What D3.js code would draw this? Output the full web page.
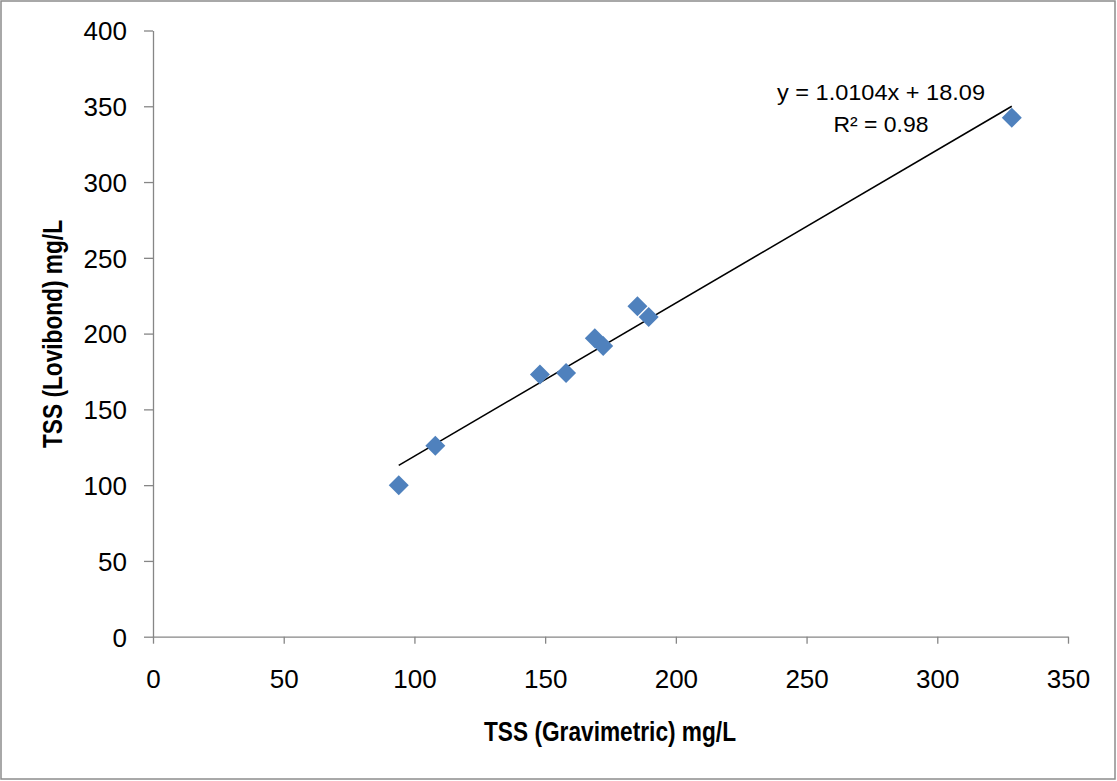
<!DOCTYPE html>
<html>
<head>
<meta charset="utf-8">
<script src="https://cdn.jsdelivr.net/npm/d3@7"></script>
<style>
  html, body { margin: 0; padding: 0; background: #fff; }
  svg { display: block; }
  text { font-family: "Liberation Sans", Arial, sans-serif; fill: #000; }
</style>
</head>
<body>
<svg id="chart" width="1117" height="781"></svg>
<script>
// ---- data ----
const gravimetric = [94, 108, 148, 158, 169, 172.2, 185.3, 189.6, 328.5];
const lovibond    = [100, 126, 173, 174, 197, 191.9, 218, 210.9, 342.5];
const xTicks = [0, 50, 100, 150, 200, 250, 300, 350];
const yTicks = [0, 50, 100, 150, 200, 250, 300, 350, 400];
const slope = 1.0104, intercept = 18.09;
const eqLabel = "y = 1.0104x + 18.09";
const r2Label = "R\u00B2 = 0.98";
const xTitle = "TSS (Gravimetric) mg/L";
const yTitle = "TSS (Lovibond) mg/L";

const W = 1117, H = 781;
const m = { left: 153, right: 1068, top: 30.5, bottom: 636.7 };
const svg = d3.select("#chart");

// border
svg.append("rect").attr("x", 1).attr("y", 1).attr("width", W - 3).attr("height", H - 3)
  .attr("fill", "#fff").attr("stroke", "#8c8c8c").attr("stroke-width", 1.5);

const x = d3.scaleLinear().domain([0, 350]).range([m.left, m.right]);
const y = d3.scaleLinear().domain([0, 400]).range([m.bottom, m.top]);

const axisColor = "#868686";

// x axis
const gx = svg.append("g").attr("transform", `translate(0,${m.bottom})`)
  .call(d3.axisBottom(x).tickValues(xTicks).tickSize(7).tickSizeOuter(0).tickPadding(0));
gx.select(".domain").attr("stroke", axisColor).attr("stroke-width", 1.3);
gx.selectAll(".tick line").attr("stroke", axisColor).attr("stroke-width", 1.3);
gx.selectAll(".tick text").attr("y", 0).attr("dy", 51).attr("font-size", 26)
  .attr("font-family", "Liberation Sans, Arial, sans-serif").attr("fill", "#000");

// y axis
const gy = svg.append("g").attr("transform", `translate(${m.left},0)`)
  .call(d3.axisLeft(y).tickValues(yTicks).tickSize(9).tickSizeOuter(0).tickPadding(0));
gy.select(".domain").attr("stroke", axisColor).attr("stroke-width", 1.3);
gy.selectAll(".tick line").attr("stroke", axisColor).attr("stroke-width", 1.3);
gy.selectAll(".tick text").attr("x", -26).attr("dy", 9.3).attr("font-size", 26)
  .attr("font-family", "Liberation Sans, Arial, sans-serif").attr("fill", "#000");

// trendline
const xMin = d3.min(gravimetric), xMax = d3.max(gravimetric);
svg.append("line")
  .attr("x1", x(xMin)).attr("y1", y(slope * xMin + intercept))
  .attr("x2", x(xMax)).attr("y2", y(slope * xMax + intercept))
  .attr("stroke", "#000").attr("stroke-width", 1.6);

// points (diamonds)
const pts = gravimetric.map((g, i) => ({ g, l: lovibond[i] }));
const r = 10;
svg.append("g").selectAll("path").data(pts).enter().append("path")
  .attr("d", d => `M${x(d.g)},${y(d.l) - r}L${x(d.g) + r},${y(d.l)}L${x(d.g)},${y(d.l) + r}L${x(d.g) - r},${y(d.l)}Z`)
  .attr("fill", "#4f81bd");

// equation labels
svg.append("text").attr("x", 881).attr("y", 99.5).attr("text-anchor", "middle")
  .attr("font-size", 22.5).attr("textLength", 208).attr("lengthAdjust", "spacingAndGlyphs")
  .text(eqLabel);
svg.append("text").attr("x", 881).attr("y", 131.5).attr("text-anchor", "middle")
  .attr("font-size", 22.5).attr("textLength", 95).attr("lengthAdjust", "spacingAndGlyphs")
  .text(r2Label);

// axis titles
svg.append("text").attr("x", 610).attr("y", 740.5).attr("text-anchor", "middle")
  .attr("font-size", 28).attr("font-weight", "bold")
  .attr("textLength", 252).attr("lengthAdjust", "spacingAndGlyphs")
  .text(xTitle);
svg.append("text").attr("transform", `translate(62,334) rotate(-90)`).attr("text-anchor", "middle")
  .attr("font-size", 28).attr("font-weight", "bold")
  .attr("textLength", 228).attr("lengthAdjust", "spacingAndGlyphs")
  .text(yTitle);
</script>
</body>
</html>
